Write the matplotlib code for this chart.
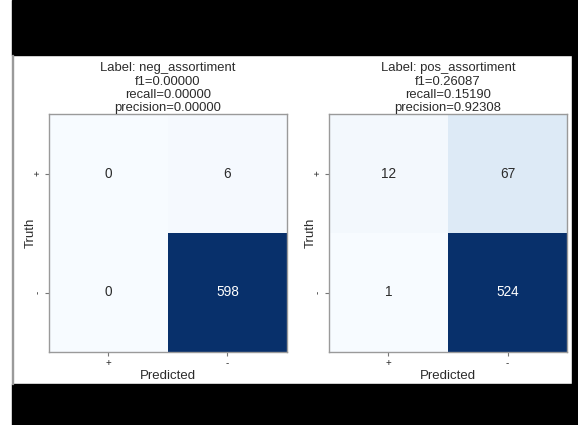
import matplotlib
matplotlib.use("Agg")
import matplotlib.pyplot as plt
from matplotlib.patches import Rectangle
import numpy as np

plt.rcParams['font.family'] = ['Liberation Sans', 'DejaVu Sans']

# confusion matrices, rows = truth (+, -), cols = predicted (+, -)
label_names = ["neg_assortiment", "pos_assortiment"]
neg_counts = [[0, 6], [0, 598]]
pos_counts = [[12, 67], [1, 524]]
f1_scores = [0.0, 0.26087]
recalls = [0.0, 0.15190]
precisions = [0.0, 0.92308]
tick_labels = ["+", "-"]

W, H = 578, 425
fig = plt.figure(figsize=(W / 100, H / 100), dpi=100)
fig.patch.set_facecolor("white")

# black frame around the plot area
fig.patches.append(Rectangle((12 / W, 1 - 55 / H), 1 - 12 / W, 55 / H,
                             transform=fig.transFigure, color="black", zorder=0))
fig.patches.append(Rectangle((12 / W, 0), 1 - 12 / W, 41 / H,
                             transform=fig.transFigure, color="black", zorder=0))
fig.patches.append(Rectangle((572 / W, 0), 6 / W, 1,
                             transform=fig.transFigure, color="black", zorder=0))
fig.patches.append(Rectangle((12 / W, 41 / H), 1.2 / W, 1 - 96 / H,
                             transform=fig.transFigure, color="#9a9a9a", zorder=0))

txt = "#2b2b2b"
lefts = [49, 329]
for i, counts in enumerate([neg_counts, pos_counts]):
    cm = np.array(counts)
    ax = fig.add_axes([lefts[i] / W, (H - 352) / H, 238 / W, 238 / H])
    vmin, vmax = cm.min(), cm.max()
    ax.imshow(cm, cmap="Blues", vmin=vmin, vmax=vmax, aspect="auto")
    for r in range(2):
        for c in range(2):
            frac = (cm[r, c] - vmin) / (vmax - vmin)
            ax.text(c, r, str(cm[r, c]), ha="center", va="center",
                    fontsize=9.8, color="white" if frac > 0.5 else txt)
    ax.set_xticks([0, 1])
    ax.set_xticklabels(tick_labels, fontsize=7, color=txt)
    ax.set_yticks([0, 1])
    ax.set_yticklabels(tick_labels, fontsize=7, color=txt, rotation=90, va="center")
    ax.tick_params(length=3, width=0.8, color="#777777", pad=1.5)
    for s in ax.spines.values():
        s.set_color("#9a9a9a")
        s.set_linewidth(1)
    ax.set_xlabel("Predicted", fontsize=9.5, color=txt, labelpad=1.5)
    ax.set_ylabel("Truth", fontsize=9.5, color=txt, labelpad=-3)
    ax.set_title("Label: %s\nf1=%.5f\nrecall=%.5f\nprecision=%.5f"
                 % (label_names[i], f1_scores[i], recalls[i], precisions[i]),
                 fontsize=9.4, color=txt, pad=2, linespacing=1.13)

fig.savefig("out.png", dpi=100)
